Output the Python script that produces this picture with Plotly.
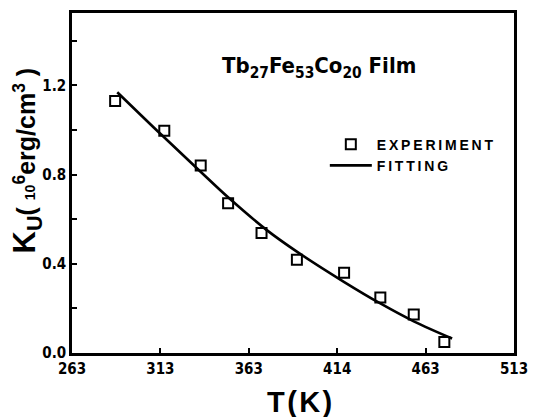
import plotly.graph_objects as go

exp_T = [287.4, 315.2, 335.8, 351.3, 370.2, 390.2, 416.9, 437.4, 456.3, 473.6]
exp_K = [1.129, 0.996, 0.840, 0.671, 0.538, 0.418, 0.360, 0.249, 0.173, 0.049]

# Fitting curve
fit_T = [288.6, 313.6, 334.1, 352.4, 373.0, 391.0, 417.0, 437.4, 456.3, 478.0]
fit_K = [1.169, 0.978, 0.825, 0.690, 0.552, 0.450, 0.318, 0.222, 0.142, 0.065]

x_tick_vals = [263, 313, 363, 413, 463, 513]
x_tick_text = ["263", "313", "363", "414", "463", "513"]
y_tick_vals = [0.0, 0.4, 0.8, 1.2]
y_tick_text = ["0.0", "0.4", "0.8", "1.2"]
y_minor_vals = [0.2, 0.6, 1.0, 1.4]

def spaced(s):
    return "\u2009".join(list(s))

NARROW = "DejaVu Sans Condensed, Liberation Sans Narrow, sans-serif"
BOLD = "Liberation Sans, Arial, DejaVu Sans, sans-serif"

fig = go.Figure()
fig.add_trace(go.Scatter(
    x=exp_T, y=exp_K, mode="markers", name=spaced("EXPERIMENT"), legendgroup="a",
    marker=dict(symbol="square-open", size=10, color="black", line=dict(width=2, color="black")),
))
fig.add_trace(go.Scatter(
    x=fit_T, y=fit_K, mode="lines", name=spaced("FITTING"), legendgroup="b",
    line=dict(color="black", width=2.6, shape="spline", smoothing=1.0),
))

fig.update_layout(
    width=538, height=417,
    margin=dict(l=72, r=16, t=10, b=64),
    paper_bgcolor="white", plot_bgcolor="white",
    showlegend=True,
    legend=dict(
        x=0.572, y=0.66, xanchor="left", yanchor="top",
        bgcolor="rgba(0,0,0,0)",
        font=dict(family=BOLD, size=14, color="black", weight="bold"),
        tracegroupgap=0, itemwidth=42,
    ),
    xaxis=dict(
        range=[263, 513], tickmode="array", tickvals=x_tick_vals, ticktext=x_tick_text,
        ticks="inside", ticklen=5, tickwidth=2, tickcolor="black",
        showline=True, linewidth=2.5, linecolor="black", mirror=True,
        showgrid=False, zeroline=False,
        tickfont=dict(family=NARROW, size=15, color="black", weight="bold"),
    ),
    yaxis=dict(
        range=[0, 1.524], tickmode="array", tickvals=y_tick_vals, ticktext=y_tick_text,
        ticks="inside", ticklen=5, tickwidth=2, tickcolor="black",
        minor=dict(tickmode="array", tickvals=y_minor_vals, ticks="inside", ticklen=5, tickwidth=2, tickcolor="black"),
        showline=True, linewidth=2.5, linecolor="black", mirror=True,
        showgrid=False, zeroline=False,
        tickfont=dict(family=NARROW, size=15, color="black", weight="bold"),
    ),
)

# Title inside plot
fig.add_annotation(
    xref="paper", yref="paper", x=(323 - 72) / 450, y=(353 - 65) / 343,
    text="Tb<sub>27</sub>Fe<sub>53</sub>Co<sub>20</sub> Film",
    showarrow=False, xanchor="center", yanchor="middle",
    font=dict(family=NARROW, size=22, color="black", weight="bold"),
)

# X axis title
fig.add_annotation(
    xref="paper", yref="paper", x=(304 - 72) / 450, y=-(402 - 353) / 343,
    text="T\u200a(\u200aK\u200a)", showarrow=False, xanchor="center", yanchor="middle",
    font=dict(family=BOLD, size=29, color="black", weight="bold"),
)

# Y axis title
fig.add_annotation(
    xref="paper", yref="paper", x=-(72 - 26) / 450, y=(353 - 159) / 343,
    text="K<sub>U</sub><span style='font-size:25px'>( <span style='font-size:14px'>10</span><sup>6</sup>erg/cm<sup>3</sup> )</span>",
    showarrow=False, textangle=-90, xanchor="center", yanchor="middle",
    font=dict(family=BOLD, size=31, color="black", weight="bold"),
)

fig.write_html("out.html")
